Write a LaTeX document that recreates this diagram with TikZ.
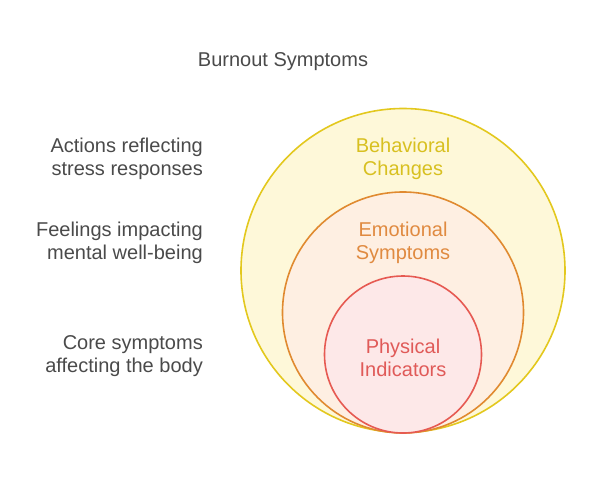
\documentclass[tikz,border=0pt]{standalone}
\usepackage{fontspec}
\setmainfont{Liberation Sans}
\definecolor{ystroke}{HTML}{E3C81E}
\definecolor{yfill}{HTML}{FEF8D9}
\definecolor{ytext}{HTML}{D8C020}
\definecolor{ostroke}{HTML}{E08A30}
\definecolor{ofill}{HTML}{FEEFE2}
\definecolor{otext}{HTML}{E08A40}
\definecolor{rstroke}{HTML}{E65A52}
\definecolor{rfill}{HTML}{FDE8E8}
\definecolor{rtext}{HTML}{E05A58}
\definecolor{gtext}{HTML}{4A4A4A}
\tikzset{
  lbl/.style={font=\fontsize{20}{23}\selectfont, align=center, inner sep=0pt},
  side/.style={font=\fontsize{20}{23}\selectfont, align=right, anchor=east, text=gtext, inner sep=0pt},
  ring/.style={circle, line width=1.6pt, inner sep=0pt}
}
\begin{document}
\begin{tikzpicture}[x=1pt,y=-1pt]
\useasboundingbox (0,0) rectangle (590,483);
\node[ring, draw=ystroke, fill=yfill, minimum size=324pt] (outer) at (403,270.5) {};
\node[ring, draw=ostroke, fill=ofill, minimum size=241pt] (middle) at (403,312.5) {};
\node[ring, draw=rstroke, fill=rfill, minimum size=157pt] (inner) at (403,354.5) {};
\node[lbl, text=gtext] (title) at (283,62) {Burnout Symptoms};
\node[lbl, text=ytext] (beh) at (403,158.5) {Behavioral\\Changes};
\node[lbl, text=otext] (emo) at (403,242.5) {Emotional\\Symptoms};
\node[lbl, text=rtext] (phy) at (403,357.5) {Physical\\Indicators};
\node[side] (s1) at (203,158.5) {Actions reflecting\\stress responses};
\node[side] (s2) at (203,242.5) {Feelings impacting\\mental well-being};
\node[side] (s3) at (203,356.5) {Core symptoms\\affecting the body};
\end{tikzpicture}
\end{document}
